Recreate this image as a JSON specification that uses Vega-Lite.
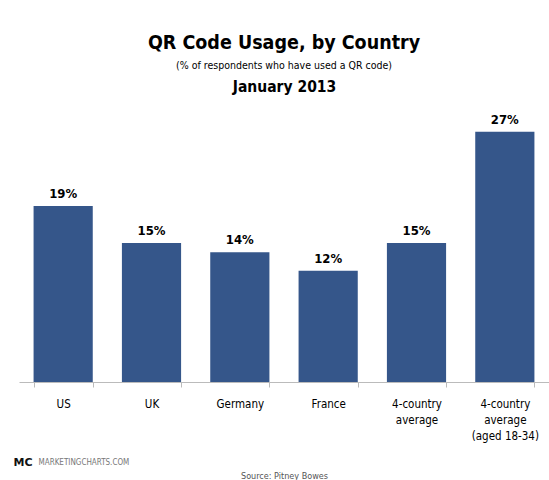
{
  "$schema": "https://vega.github.io/schema/vega-lite/v6.json",
  "width": 530,
  "height": 278,
  "autosize": {"type": "none"},
  "padding": {"left": 19, "top": 104, "right": 0, "bottom": 98},
  "background": "white",
  "config": {"view": {"stroke": null}, "font": "DejaVu Sans Condensed"},
  "title": {
    "text": "QR Code Usage, by Country",
    "subtitle": "(% of respondents who have used a QR code)",
    "font": "DejaVu Sans Condensed",
    "fontSize": 19.5,
    "fontWeight": "bold",
    "color": "black",
    "subtitleFont": "DejaVu Sans Condensed",
    "subtitleFontSize": 10.5,
    "subtitleColor": "black",
    "subtitlePadding": 7,
    "anchor": "middle",
    "offset": 7
  },
  "data": {
    "values": [
      {"category": "US", "value": 19, "label": "19%"},
      {"category": "UK", "value": 15, "label": "15%"},
      {"category": "Germany", "value": 14, "label": "14%"},
      {"category": "France", "value": 12, "label": "12%"},
      {"category": "4-country average", "value": 15, "label": "15%"},
      {"category": "4-country average (aged 18-34)", "value": 27, "label": "27%"}
    ]
  },
  "layer": [
    {
      "mark": {"type": "bar", "color": "#35568A"},
      "encoding": {
        "x": {
          "field": "category",
          "type": "nominal",
          "sort": null,
          "scale": {"paddingInner": 0.33, "paddingOuter": 0.165},
          "axis": {
            "orient": "bottom",
            "labelAngle": 0,
            "tickBand": "extent",
            "tickSize": 5,
            "tickColor": "#bbbbbb",
            "domainColor": "#bbbbbb",
            "labelFont": "DejaVu Sans Condensed",
            "labelFontSize": 11.5,
            "labelColor": "black",
            "labelPadding": 11,
            "labelLineHeight": 16,
            "labelExpr": "datum.label == '4-country average' ? ['4-country', 'average'] : datum.label == '4-country average (aged 18-34)' ? ['4-country', 'average', '(aged 18-34)'] : datum.label",
            "title": "Source: Pitney Bowes",
            "titleFont": "DejaVu Sans Condensed",
            "titleFontSize": 9,
            "titleFontWeight": "normal",
            "titleColor": "#555555",
            "titleY": 93,
            "titleBaseline": "middle"
          }
        },
        "y": {
          "field": "value",
          "type": "quantitative",
          "scale": {"domain": [0, 30]},
          "axis": {
            "orient": "left",
            "domain": false,
            "ticks": false,
            "labels": false,
            "grid": false,
            "title": "MARKETINGCHARTS.COM",
            "titleFont": "DejaVu Sans Condensed",
            "titleFontSize": 8,
            "titleFontWeight": "normal",
            "titleColor": "#777777",
            "titleAngle": 0,
            "titleAlign": "left",
            "titleBaseline": "middle",
            "titleX": 19,
            "titleY": 358
          }
        }
      }
    },
    {
      "mark": {"type": "text", "baseline": "bottom", "dy": -5, "fontWeight": "bold", "fontSize": 13, "color": "black", "font": "DejaVu Sans Condensed"},
      "encoding": {
        "x": {
          "field": "category",
          "type": "nominal",
          "sort": null,
          "axis": {
            "orient": "top",
            "domain": false,
            "ticks": false,
            "labels": false,
            "title": "January 2013",
            "titleFont": "DejaVu Sans Condensed",
            "titleFontSize": 15.5,
            "titleFontWeight": "bold",
            "titleColor": "black",
            "titleY": -18,
            "titleBaseline": "middle"
          }
        },
        "y": {
          "field": "value",
          "type": "quantitative",
          "axis": {
            "orient": "right",
            "domain": false,
            "ticks": false,
            "labels": false,
            "grid": false,
            "title": "MC",
            "titleFont": "DejaVu Sans",
            "titleFontSize": 11,
            "titleFontWeight": "bold",
            "titleColor": "#111111",
            "titleAngle": 0,
            "titleAlign": "left",
            "titleBaseline": "middle",
            "titleX": -536,
            "titleY": 358
          }
        },
        "text": {"field": "label"}
      }
    }
  ],
  "resolve": {"axis": {"x": "independent", "y": "independent"}}
}
